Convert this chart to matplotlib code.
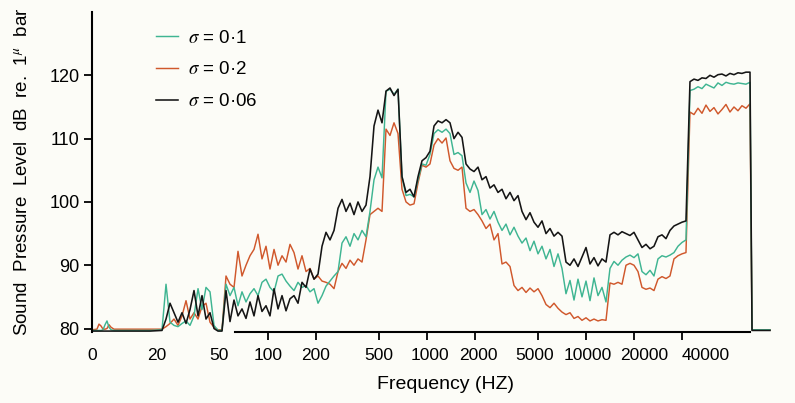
import matplotlib
matplotlib.use("Agg")
import matplotlib.pyplot as plt
import matplotlib.transforms as mtransforms
from matplotlib.ticker import NullLocator

# frequency grid (Hz)
freq_hz = [
    7.82, 8.40, 8.65, 8.91, 9.17, 9.44, 9.71, 10.0, 10.3, 10.75, 13.55, 18.1,
    21.54, 22.83, 24.19, 25.63, 27.16, 28.78, 30.50, 32.32, 34.24, 36.29,
    38.45, 40.74, 43.17, 45.75, 48.47, 51.36, 54.43, 57.67, 61.11, 64.75,
    68.61, 72.71, 77.04, 81.64, 86.51, 91.67, 97.14, 102.9, 109.1, 115.6,
    122.5, 129.8, 137.5, 145.7, 154.4, 163.6, 173.4, 183.7, 194.7, 206.3,
    218.6, 231.6, 245.4, 260.1, 275.6, 292.0, 309.4, 327.9, 347.4, 368.1,
    390.1, 413.3, 438.0, 464.2, 491.8, 521.2, 552.2, 585.2, 620.1, 657.0,
    696.2, 737.8, 781.8, 828.4, 877.8, 930.1, 985.6, 1044, 1107, 1173,
    1243, 1317, 1395, 1478, 1567, 1660, 1759, 1864, 1975, 2093,
    2218, 2350, 2490, 2639, 2796, 2963, 3139, 3327, 3525, 3735,
    3958, 4194, 4444, 4709, 4990, 5287, 5603, 5937, 6291, 6666,
    7063, 7484, 7931, 8404, 8905, 9436, 10000, 10596, 11227, 11897,
    12606, 13358, 14154, 14998, 15893, 16840, 17844, 18908, 20036, 21230,
    22496, 23837, 25259, 26765, 28360, 30052, 31843, 33742, 35754, 37886,
    40145, 42538, 45075, 47762, 50610, 53628, 56825, 60213, 63804, 67608,
    71639, 75910, 80436, 85232, 90314, 95699, 101400, 107500,
    110700, 143600,
]

# sigma = 0.06 (black)
level_006 = [
    79.6, 79.6, 79.6, 79.6, 79.6, 79.6, 79.6, 79.6, 79.6, 79.6, 79.6, 79.6,
    79.7, 81.5, 84.0, 82.5, 81.0, 82.5, 80.8, 83.0, 86.0, 82.0,
    85.2, 81.5, 82.5, 80.0, 79.6, 79.6, 86.0, 81.1, 84.5, 82.0,
    83.1, 81.6, 84.2, 82.0, 85.2, 82.7, 83.6, 82.0, 86.3, 83.1,
    85.2, 82.8, 84.7, 85.2, 84.0, 87.3, 86.5, 89.4, 87.8, 88.6,
    93.0, 95.2, 94.0, 95.5, 99.0, 100.4, 98.5, 99.8, 98.0, 100.0,
    98.5, 99.5, 104.0, 112.0, 114.5, 112.5, 117.5, 118.0, 116.8, 117.8,
    104.0, 101.5, 102.0, 100.8, 104.0, 106.5, 107.0, 108.0, 112.0, 112.8,
    112.5, 113.0, 112.5, 110.0, 111.0, 110.2, 106.0, 105.2, 104.8, 105.5,
    103.5, 104.0, 102.2, 102.7, 101.5, 102.0, 100.5, 101.5, 100.2, 101.0,
    98.5, 97.2, 98.3, 96.8, 96.0, 97.0, 95.0, 95.8, 94.6, 95.2,
    94.6, 90.5, 90.0, 91.0, 89.8, 91.3, 92.8, 90.2, 91.2, 89.9,
    91.0, 90.5, 94.8, 95.2, 94.8, 95.3, 95.0, 94.7, 95.2, 94.0,
    92.8, 93.3, 92.6, 93.0, 94.5, 94.8, 94.2, 95.5, 96.2, 96.5,
    96.8, 97.0, 119.0, 119.4, 119.2, 119.6, 119.5, 120.0, 119.7, 120.1,
    120.2, 119.9, 120.3, 120.1, 120.4, 120.3, 120.5, 120.5,
    79.7, 79.7,
]

# sigma = 0.1 (green)
level_01 = [
    79.7, 79.7, 79.7, 79.7, 79.8, 80.6, 81.2, 80.2, 79.8, 79.7, 79.7, 79.7,
    79.8, 87.0, 81.0, 80.5, 80.3, 80.8, 81.2, 80.5, 82.0, 86.3,
    83.0, 86.5, 85.8, 80.5, 79.7, 79.7, 87.0, 85.2, 86.5, 83.6,
    85.8, 84.2, 85.5, 86.3, 85.2, 87.3, 87.8, 86.5, 85.8, 88.3,
    88.6, 87.5, 86.7, 86.0, 87.3, 86.5, 86.8, 85.8, 86.3, 84.0,
    85.2, 86.7, 87.5, 88.3, 89.0, 93.5, 94.5, 93.0, 95.0, 94.0,
    95.5, 94.5, 98.5, 103.5, 105.5, 103.8, 117.5, 117.8, 117.0, 117.8,
    104.0, 101.0, 101.2, 100.8, 103.5, 106.0, 105.8, 107.5, 110.8, 111.4,
    111.0, 111.5, 110.8, 107.5, 107.8, 107.3, 103.0, 101.5, 103.3, 101.8,
    98.0, 98.8, 97.3, 98.5, 96.8, 95.5, 96.5, 94.8, 96.0, 94.6,
    93.5, 94.3, 92.3, 93.8, 91.8, 93.0, 91.0, 92.5, 89.8, 91.8,
    89.5, 85.5, 87.6, 84.5, 87.8, 85.0, 87.5, 84.4, 88.0, 85.2,
    86.5, 84.2, 89.5, 90.6, 90.0, 90.8, 91.3, 91.6, 91.2, 91.8,
    89.0, 88.5, 89.2, 88.3, 91.0, 91.5, 91.3, 91.6, 92.0, 93.0,
    93.6, 94.0, 117.6, 117.8, 118.2, 117.9, 118.6, 118.3, 118.0, 118.8,
    118.4, 118.9, 118.7, 118.6, 118.8, 118.7, 118.6, 118.9,
    79.8, 79.8,
]

# sigma = 0.2 (orange)
level_02 = [
    79.8, 79.9, 80.7, 80.4, 79.9, 79.9, 80.0, 80.6, 80.2, 79.9, 79.9, 79.9,
    79.9, 80.3, 80.8, 81.5, 80.5, 82.0, 84.4, 81.5, 82.5, 81.5,
    83.5, 84.0, 81.0, 80.2, 79.8, 79.8, 88.3, 87.0, 86.5, 92.2,
    88.3, 90.0, 91.5, 92.5, 94.9, 91.0, 93.0, 89.4, 92.5, 90.0,
    91.5, 90.5, 93.3, 92.0, 89.4, 91.5, 89.0, 89.5, 87.8, 88.3,
    87.5, 87.3, 87.0, 86.3, 89.0, 90.3, 89.5, 90.8, 90.0, 91.0,
    90.5, 94.0, 98.0, 98.5, 99.0, 98.5, 111.5, 110.5, 112.5, 110.8,
    102.0, 100.0, 99.5, 99.7, 103.0, 105.8, 105.5, 106.0, 109.0, 110.0,
    109.3, 110.1, 106.5, 105.3, 105.0, 105.5, 99.0, 98.5, 98.8, 98.0,
    97.0, 95.8, 96.5, 94.0, 95.0, 90.2, 90.5, 89.8, 86.8, 86.0,
    86.5, 85.7, 86.4, 85.8, 86.3, 85.2, 83.8, 83.3, 84.0, 83.2,
    82.6, 82.2, 82.5, 81.6, 81.9, 81.3, 81.7, 81.2, 81.5, 81.2,
    81.4, 81.3, 87.2, 87.0, 87.3, 87.0, 90.0, 90.3, 90.0, 89.0,
    86.5, 86.2, 86.4, 86.0, 87.8, 88.2, 87.9, 88.3, 91.0, 91.5,
    91.8, 92.0, 114.2, 113.8, 114.8, 114.0, 115.3, 114.3, 114.9, 113.9,
    114.6, 115.4, 114.2, 115.0, 114.4, 115.2, 114.8, 115.5,
    79.8, 79.8,
]

tick_freqs = [7.82, 20, 50, 100, 200, 500, 1000, 2000, 5000, 10000, 20000, 40000]
tick_labels = ['0', '20', '50', '100', '200', '500', '1000', '2000',
               '5000', '10000', '20000', '40000']
# the printed labels sit a little off their ticks (pixels)
label_shift = [0, 0, -1, 0, 0, 0, 3, 4, -4, 2, 10, 24]
y_ticks = [80, 90, 100, 110, 120]

plt.rcParams['font.family'] = ['Liberation Sans', 'DejaVu Sans']
plt.rcParams['mathtext.fontset'] = 'stix'

bg = '#fcfcf7'
fig = plt.figure(figsize=(7.95, 4.03), dpi=100, facecolor=bg)
ax = fig.add_axes([92 / 795, 0.1769, 688 / 795, 0.7933])
ax.set_facecolor(bg)
ax.set_xscale('log')

l_o, = ax.plot(freq_hz, level_02, color='#d0582c', lw=1.05, label=r'$\sigma$ = 0·2')
l_g, = ax.plot(freq_hz, level_01, color='#3fb592', lw=1.05, label=r'$\sigma$ = 0·1')
l_b, = ax.plot(freq_hz, level_006, color='#151515', lw=1.15, label=r'$\sigma$ = 0·06')

ax.set_xlim(7.816, 166000)
ax.set_ylim(79.5, 130)

ax.set_xticks(tick_freqs)
ax.set_xticklabels(tick_labels)
ax.xaxis.set_minor_locator(NullLocator())
for t in ax.xaxis.get_major_ticks()[:3]:
    t.tick1line.set_visible(False)
ax.set_yticks(y_ticks)

ax.tick_params(axis='x', direction='out', length=6, width=1.3, labelsize=12.5, pad=6)
ax.tick_params(axis='y', direction='out', length=6, width=1.3, labelsize=13, pad=3)

for lab, dx in zip(ax.get_xticklabels(), label_shift):
    lab.set_transform(lab.get_transform() +
                      mtransforms.ScaledTranslation(dx / 100, 0, fig.dpi_scale_trans))

for s in ['top', 'right']:
    ax.spines[s].set_visible(False)
ax.spines['left'].set_linewidth(1.5)
ax.spines['bottom'].set_linewidth(1.5)
ax.spines['bottom'].set_bounds(62, 107500)

ax.set_xlabel('Frequency (HZ)', fontsize=14)
ax.xaxis.set_label_coords(0.5145, -0.14)
ax.set_ylabel(r'Sound  Pressure  Level  dB  re.  1$^{\mu}$  bar', fontsize=13.5)
ax.yaxis.set_label_coords(-0.087, 0.5)

ax.legend(handles=[l_g, l_o, l_b], loc='upper left', bbox_to_anchor=(0.093, 0.945),
          frameon=False, fontsize=13.5, handlelength=1.15, handletextpad=0.55,
          labelspacing=0.78, borderpad=0, borderaxespad=0)

fig.savefig('out.png', dpi=100, facecolor=bg)
